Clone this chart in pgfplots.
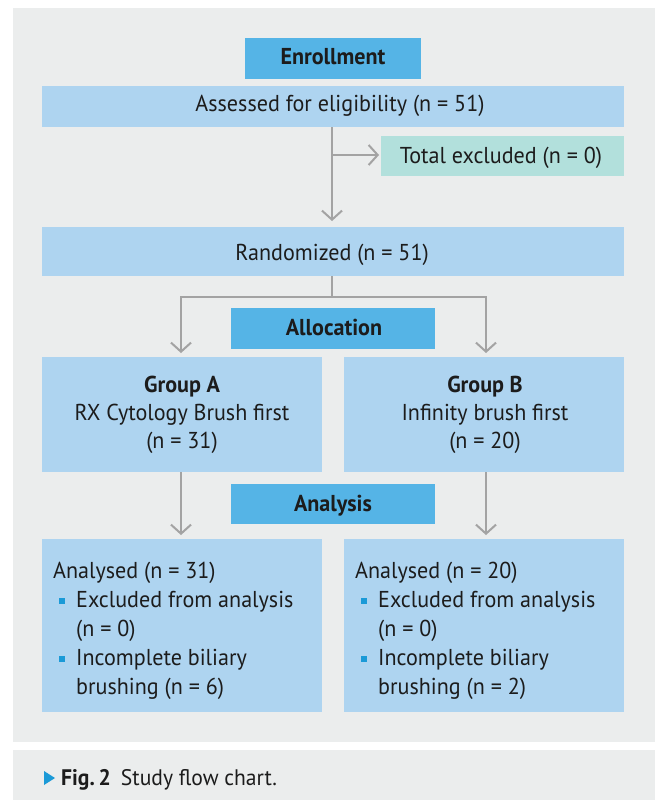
\documentclass[border=0pt]{standalone}
\usepackage{pgfplots}
\pgfplotsset{compat=1.18}
\usepackage{fontspec}
\setmainfont{PT Sans}[FakeStretch=0.96]
\usetikzlibrary{arrows.meta}
\definecolor{bg}{HTML}{EBEDED}
\definecolor{dark}{HTML}{55B4E6}
\definecolor{light}{HTML}{AED4F0}
\definecolor{tealbox}{HTML}{B2E0DC}
\definecolor{arr}{HTML}{A3A3A3}
\definecolor{bul}{HTML}{1B9AD7}
\definecolor{txt}{HTML}{1C1C1C}
\newcommand{\fs}{\fontsize{23}{27}\selectfont}
\begin{document}
\begin{tikzpicture}
\begin{axis}[width=657pt,height=800pt,scale only axis,xmin=0,xmax=657,ymin=0,ymax=800,
  y dir=reverse,hide axis,clip=false]
% page background
\fill[white] (axis cs:0,0) rectangle (axis cs:657,800);
\fill[bg] (axis cs:13,8) rectangle (axis cs:655,742);
\fill[bg] (axis cs:13,750) rectangle (axis cs:655,800);
% boxes
\fill[dark] (axis cs:245,38) rectangle (axis cs:421,79);
\fill[light] (axis cs:42,86) rectangle (axis cs:624,127);
\fill[tealbox] (axis cs:381,136) rectangle (axis cs:624,176);
\fill[light] (axis cs:42,227) rectangle (axis cs:624,276);
\fill[dark] (axis cs:231,308) rectangle (axis cs:435,349);
\fill[light] (axis cs:42,357) rectangle (axis cs:322,472);
\fill[light] (axis cs:344,357) rectangle (axis cs:624,472);
\fill[dark] (axis cs:231,484) rectangle (axis cs:435,524);
\fill[light] (axis cs:42,539) rectangle (axis cs:322,712);
\fill[light] (axis cs:344,539) rectangle (axis cs:624,712);
% arrows
\tikzset{ar/.style={draw=arr,line width=2pt,-{Straight Barb[length=9pt,width=20pt,line width=2pt]}}}
\draw[ar] (axis cs:332,127) -- (axis cs:332,221);
\draw[ar] (axis cs:332,155) -- (axis cs:379,155);
\draw[draw=arr,line width=2pt] (axis cs:332,276) -- (axis cs:332,297);
\draw[ar] (axis cs:180,297) -- (axis cs:486,297) -- (axis cs:486,353);
\draw[ar] (axis cs:181,297) -- (axis cs:181,353);
\draw[ar] (axis cs:181,472) -- (axis cs:181,535);
\draw[ar] (axis cs:486,472) -- (axis cs:486,535);
% texts
\tikzset{t/.style={text=txt,font=\fs,inner sep=0pt}}
\node[t,anchor=base] at (axis cs:333,65) {\bfseries Enrollment};
\node[t,anchor=base] at (axis cs:340,111) {Assessed for eligibility (n = 51)};
\node[t,anchor=base] at (axis cs:501,163) {Total excluded (n = 0)};
\node[t,anchor=base] at (axis cs:332,260) {Randomized (n = 51)};
\node[t,anchor=base] at (axis cs:334,335) {\bfseries Allocation};
\node[t,anchor=base] at (axis cs:182,392) {\bfseries Group A};
\node[t,anchor=base] at (axis cs:182,420) {RX Cytology Brush first};
\node[t,anchor=base] at (axis cs:182,448) {(n = 31)};
\node[t,anchor=base] at (axis cs:485,392) {\bfseries Group B};
\node[t,anchor=base] at (axis cs:485,420) {Infinity brush first};
\node[t,anchor=base] at (axis cs:485,448) {(n = 20)};
\node[t,anchor=base] at (axis cs:333,511) {\bfseries Analysis};
% analysed A
\node[t,anchor=base west] at (axis cs:53,578) {Analysed (n = 31)};
\node[t,anchor=base west] at (axis cs:76,607) {Excluded from analysis};
\node[t,anchor=base west] at (axis cs:76,636) {(n = 0)};
\node[t,anchor=base west] at (axis cs:76,665) {Incomplete biliary};
\node[t,anchor=base west] at (axis cs:76,694) {brushing (n = 6)};
\fill[bul] (axis cs:59,598) rectangle (axis cs:65,604);
\fill[bul] (axis cs:59,656) rectangle (axis cs:65,662);
% analysed B
\node[t,anchor=base west] at (axis cs:355,578) {Analysed (n = 20)};
\node[t,anchor=base west] at (axis cs:378,607) {Excluded from analysis};
\node[t,anchor=base west] at (axis cs:378,636) {(n = 0)};
\node[t,anchor=base west] at (axis cs:378,665) {Incomplete biliary};
\node[t,anchor=base west] at (axis cs:378,694) {brushing (n = 2)};
\fill[bul] (axis cs:361,598) rectangle (axis cs:367,604);
\fill[bul] (axis cs:361,656) rectangle (axis cs:367,662);
% caption
\fill[bul] (axis cs:44,771) -- (axis cs:55,778) -- (axis cs:44,785) -- cycle;
\node[t,anchor=base west,font=\fontsize{22.5}{26}\selectfont] at (axis cs:61,785) {\bfseries Fig.\,2\hspace{0.45em}\mdseries Study flow chart.};
\end{axis}
\end{tikzpicture}
\end{document}
